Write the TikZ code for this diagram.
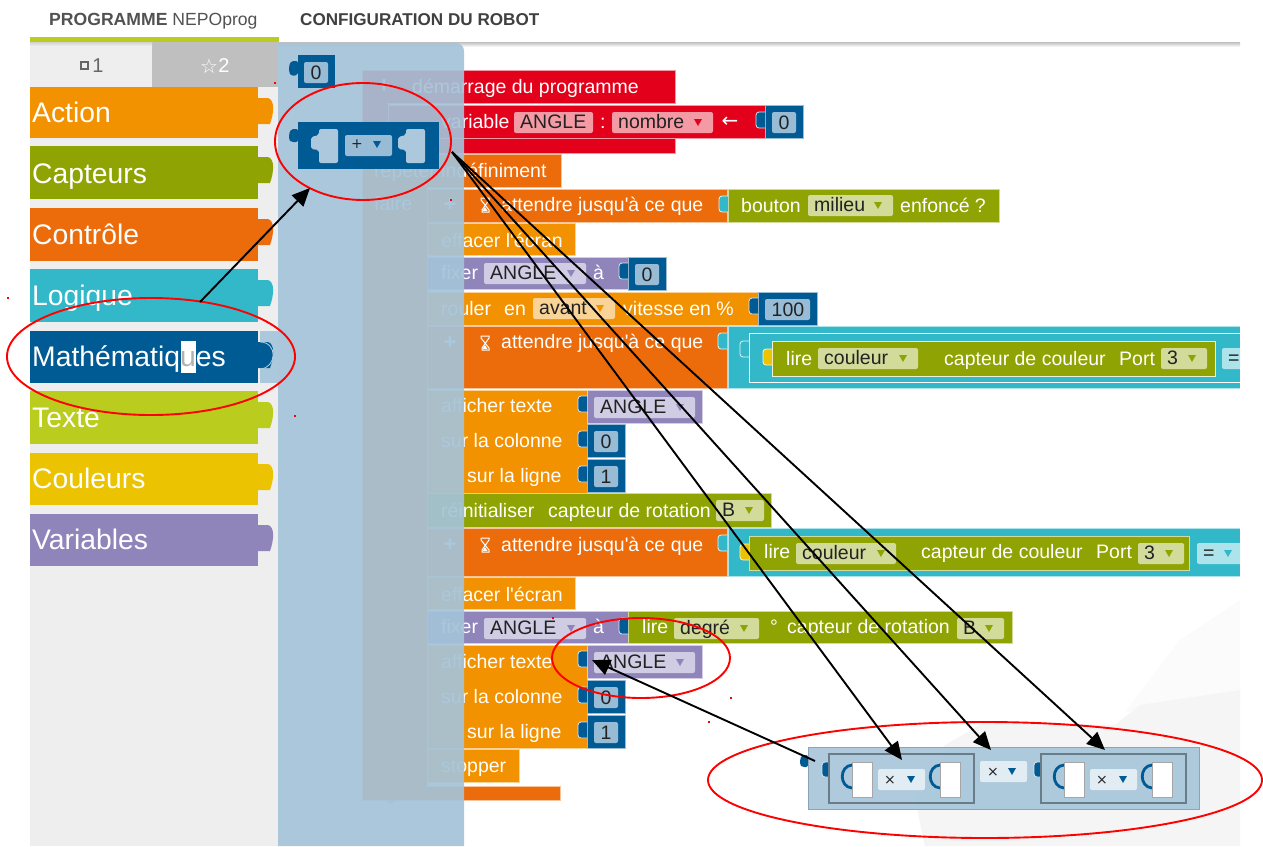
\documentclass[tikz,border=0pt]{standalone}
\usepackage{fontspec}
\setmainfont{Liberation Sans}
\newfontfamily\djfont{DejaVu Sans}
\usetikzlibrary{shapes.geometric,arrows.meta}
\definecolor{cRed}{HTML}{E2001A}
\definecolor{cDk}{HTML}{EC6B0B}
\definecolor{cAm}{HTML}{F39200}
\definecolor{cPu}{HTML}{9085BA}
\definecolor{cGr}{HTML}{8FA402}
\definecolor{cTe}{HTML}{33B8CA}
\definecolor{cBl}{HTML}{005A94}
\definecolor{cLi}{HTML}{BACC1E}
\definecolor{cYe}{HTML}{EBC300}
\definecolor{ddBl}{HTML}{99BCD6}
\definecolor{ddPu}{HTML}{D0CCE3}
\definecolor{ddGr}{HTML}{D2DB9A}
\definecolor{ddRe}{HTML}{F39AA5}
\definecolor{ddAm}{HTML}{FAD396}
\definecolor{ddTe}{HTML}{ADE3EA}
\definecolor{cFly}{HTML}{A4C3D9}
\definecolor{cFlyT}{HTML}{ABC8DC}
\definecolor{cPanel}{HTML}{EEEEEE}
\definecolor{cTxt}{HTML}{222222}
\newcounter{nn}
\newcommand\fz[1]{\fontsize{#1}{#1}\selectfont}
\tikzset{
  tb/.style={anchor=base west,inner sep=0pt,text=white,font=\fz{19.5}},
  dk/.style={anchor=base west,inner sep=0pt,text=cTxt,font=\fz{19.5}},
  cat/.style={anchor=base west,inner sep=0pt,text=white,font=\fz{28.3}},
  arr/.style={-{Triangle[length=18pt,width=16pt]},black,line width=1.9pt},
  ring/.style={ellipse,draw=red,line width=1.9pt,inner sep=0pt},
}
\newcommand\tw[3]{\stepcounter{nn}\node[tb,name=n\arabic{nn}] at (#1,#2) {#3};}
\newcommand\tk[3]{\stepcounter{nn}\node[dk,name=n\arabic{nn}] at (#1,#2) {#3};}
\newcommand\bk[5]{\fill[#5] (#1,#2) rectangle (#3,#4);\draw[#5!40!white,line width=.7pt] (#1,#2) rectangle (#3,#4);}
\newcommand\dd[6]{\fill[#4,rounded corners=2pt] (#1,#2) rectangle (#3,#2+21);
  \fill[#5] (#3-19,#2+7) -- (#3-11,#2+7) -- (#3-15,#2+14) -- cycle;
  \tk{#1+6}{#2+16}{#6}}
\newcommand\nt[3]{\draw[white!85!#3,line width=.8pt,fill=#3,rounded corners=3pt] (#1,#2) -- (#1-9,#2) -- (#1-9,#2+16) -- (#1,#2+16);}
\newcommand\nb[5]{\bk{#1}{#2}{#3}{#2+33}{cBl}\fill[ddBl,rounded corners=2pt] (#1+7,#2+7) rectangle (#3-7,#2+28);
  \stepcounter{nn}\node[name=n\arabic{nn},inner sep=0pt,text=cTxt,font=\fz{19.5},anchor=base] at (#4,#2+24) {#5};}
\newcommand\ctbox[3]{\fill[#3] (30,#1) rectangle (258,#2);
  \fill[#3] (258,#1+11) -- (268,#1+11) .. controls (275,#1+13) and (274,#1+26) .. (270,#1+37) -- (258,#1+37) -- cycle;}
\newcommand\cttx[2]{\stepcounter{nn}\node[cat,name=n\arabic{nn}] at (32,#1) {#2};}
\newcommand\ct[5]{\ctbox{#1}{#2}{#4}\cttx{#3}{#5}}
\newcommand\hg[2]{\draw[white,line width=1pt] (#1-4,#2-7) -- (#1+4,#2-7) -- (#1+4,#2-5) -- (#1-3,#2+5) -- (#1-3,#2+7) -- (#1+4,#2+7) -- (#1+4,#2+5) -- (#1-4,#2-5) -- cycle;
  \fill[white] (#1-2.5,#2+6) -- (#1+2.5,#2+6) -- (#1,#2+2) -- cycle;}
\newcommand\plusmk[2]{\stepcounter{nn}\node[name=n\arabic{nn},inner sep=0pt,text=white,font=\bfseries\fz{22}] at (#1,#2) {+};}
\newcommand\redmk[2]{\fill[red] (#1-1,#2-.7) rectangle (#1+1,#2+.7);}
\newcommand\hole[3]{\fill[#3,rounded corners=2pt] (#1+8,#2) -- (#1+27,#2) -- (#1+27,#2+34) -- (#1+8,#2+34) -- (#1+8,#2+21) -- (#1,#2+20) -- (#1,#2+8) -- (#1+8,#2+6) -- cycle;}
\newcommand\inblk[1]{%
  \draw[black!38!cFlyT,line width=1.8pt] (#1,754) rectangle (#1+145,803);
  \draw[cBl,line width=2.8pt,line cap=round] (#1+23,765) .. controls (#1+10,766) and (#1+10,787) .. (#1+23,788);
  \fill[white,draw=black!35,line width=.6pt] (#1+23,762) rectangle (#1+43,797);
  \draw[cBl,line width=2.8pt,line cap=round] (#1+111,765) .. controls (#1+98,766) and (#1+98,787) .. (#1+111,788);
  \fill[white,draw=black!35,line width=.6pt] (#1+111,762) rectangle (#1+131,797);
  \fill[white!65!cFlyT,rounded corners=2pt] (#1+49,769) rectangle (#1+96,790);
  \stepcounter{nn}\node[name=n\arabic{nn},inner sep=0pt,text=cTxt,font=\djfont\fz{14}] at (#1+61,780) {×};
  \fill[cBl] (#1+78,776) -- (#1+86,776) -- (#1+82,783) -- cycle;}
\begin{document}
\begin{tikzpicture}[x=1pt,y=-1pt]
\useasboundingbox (0,0) rectangle (1263,846);
\fill[white] (0,0) rectangle (1263,846);
% faint robot photo
\begin{scope}
\clip (900,570) rectangle (1240,846);
\fill[black!1.5] (1240,600) -- (1180,640) -- (1125,712) -- (1240,700) -- cycle;
\fill[black!4] (925,846) -- (915,800) -- (945,745) -- (985,722) -- (1115,725) -- (1140,705) -- (1240,690) -- (1240,846) -- cycle;
\end{scope}
% top shadow
\shade[top color=black!25,bottom color=white] (278,42) rectangle (1240,47);
% header
\stepcounter{nn}\node[name=n\arabic{nn},anchor=base west,inner sep=0pt,text=black!68,font=\fz{17.6}] at (49,25) {\textbf{PROGRAMME} NEPOprog};
\stepcounter{nn}\node[name=n\arabic{nn},anchor=base west,inner sep=0pt,text=black!75,font=\bfseries\fz{17.1}] at (300,25) {CONFIGURATION DU ROBOT};
% left panel
\fill[cPanel] (30,42) rectangle (278,846);
\fill[black!25] (152,42) rectangle (278,87);
\fill[cLi] (30,37) rectangle (279,42);
\shade[top color=black!18,bottom color=cPanel] (30,42) rectangle (152,46);
\draw[black!60,line width=1.3pt] (81,62) rectangle (88,69);
\stepcounter{nn}\node[name=n\arabic{nn},inner sep=0pt,text=black!60,font=\fz{20}] at (98,66) {1};
\stepcounter{nn}\node[name=n\arabic{nn},inner sep=0pt,text=white,font=\djfont\fz{20}] at (209,66) {☆};
\stepcounter{nn}\node[name=n\arabic{nn},inner sep=0pt,text=white,font=\fz{20}] at (224,66) {2};
% categories
\ct{87}{138}{122}{cAm}{Action}
\ct{146}{199}{183}{cGr}{Capteurs}
\ct{208}{261}{244}{cDk}{Contrôle}
\ct{269}{322}{305}{cTe}{Logique}
\fill[cFlyT] (260,331) rectangle (278,383);
\ctbox{331}{383}{cBl}
\fill[white] (181,341) rectangle (196,373);
\cttx{366}{\textcolor{white}{Mathématiq}\textcolor{black!30}{u}\textcolor{white}{es}}
\draw[white!70!cBl,line width=.8pt] (260,342) .. controls (278,342) and (277,368) .. (260,369);
\ct{391}{444}{427}{cLi}{Texte}
\ct{453}{505}{488}{cYe}{Couleurs}
\ct{514}{566}{549}{cPu}{Variables}
% ---- program blocks (start from x=362, hidden by flyout)
\bk{362}{70}{675}{103}{cRed}
\bk{362}{103}{388}{153}{cRed}
\bk{388}{105}{765}{138}{cRed}
\bk{362}{138}{675}{153}{cRed}
\fill[cRed] (363,102) rectangle (387,154);
\tw{412}{93}{démarrage du programme}
\tw{441}{128}{variable}
\dd{514}{112}{593}{ddRe}{ddRe}{ANGLE}
\tw{600}{128}{:}
\dd{612}{112}{713}{ddRe}{cRed}{nombre}
\stepcounter{nn}\node[name=n\arabic{nn},inner sep=0pt,text=white,font=\djfont\fz{20}] at (730,122) {←};
\nb{765}{105}{803}{784}{0}
\nt{765}{112}{cBl}
\plusmk{384}{86}
% repeat
\bk{362}{154}{561}{187}{cDk}
\fill[cDk] (362,187) rectangle (427,786);
\draw[cDk!40!white,line width=.7pt] (362,187) -- (362,800) (427,187) -- (427,786);
\bk{362}{786}{560}{800}{cDk}
\fill[cDk] (363,785) rectangle (426,787);
\tw{374}{177}{répéter indéfiniment}
\tw{374}{210}{faire}
\bk{427}{189}{727}{222}{cDk}
\plusmk{450}{205}
\hg{485}{205}
\tw{501}{211}{attendre jusqu\textquotesingle à ce que}
\bk{728}{189}{999}{222}{cGr}
\nt{728}{196}{cTe}
\tw{741}{212}{bouton}
\dd{808}{195}{893}{ddGr}{cGr}{milieu}
\tw{900}{212}{enfoncé ?}
\bk{427}{223}{575}{255}{cAm}
\tw{441}{247}{effacer l\textquotesingle écran}
\bk{427}{257}{628}{289}{cPu}
\tw{441}{279}{fixer}
\dd{484}{263}{586}{ddPu}{cPu}{ANGLE}
\tw{593}{279}{à}
\nb{628}{257}{666}{647}{0}
\nt{628}{263}{cBl}
\bk{427}{292}{758}{325}{cAm}
\tw{441}{315}{rouler}
\tw{504}{315}{en}
\dd{533}{298}{615}{ddAm}{cAm}{avant}
\tw{623}{315}{vitesse en \%}
\nb{758}{292}{817}{788}{100}
\nt{758}{298}{cBl}
\bk{427}{326}{727}{388}{cDk}
\plusmk{450}{343}
\hg{485}{343}
\tw{501}{348}{attendre jusqu\textquotesingle à ce que}
\fill[cTe] (728,326) rectangle (1240,388);
\draw[cTe!40!white,line width=.7pt] (1240,326) -- (728,326) -- (728,388) -- (1240,388);
\nt{727}{333}{cTe}
\draw[white,line width=.8pt] (1240,333) -- (749,333) -- (749,382) -- (1240,382);
\nt{749}{341}{cTe}
\fill[cGr] (772,341) rectangle (1215,376);
\draw[white!85!cGr,line width=.8pt] (772,341) rectangle (1215,376);
\nt{772}{349}{cYe}
\tw{786}{365}{lire}
\dd{818}{348}{918}{ddGr}{cGr}{couleur}
\tw{944}{365}{capteur de couleur}
\tw{1119}{365}{Port}
\dd{1161}{348}{1207}{ddGr}{cGr}{3}
\begin{scope}
\clip (1218,340) rectangle (1240,380);
\fill[ddTe,rounded corners=2pt] (1222,348) rectangle (1250,369);
\tk{1228}{364}{=}
\end{scope}
% afficher 1
\bk{427}{390}{587}{493}{cAm}
\tw{441}{412}{afficher texte}
\tw{441}{447}{sur la colonne}
\tw{467}{482}{sur la ligne}
\bk{587}{390}{702}{423}{cPu}
\nt{587}{396}{cBl}
\dd{594}{397}{695}{ddPu}{cPu}{ANGLE}
\nb{587}{424}{625}{606}{0}
\nt{587}{431}{cBl}
\nb{587}{459}{625}{606}{1}
\nt{587}{466}{cBl}
% reinit
\bk{427}{493}{771}{527}{cGr}
\tw{441}{517}{réinitialiser}
\tw{548}{517}{capteur de rotation}
\dd{716}{500}{764}{ddGr}{cGr}{B}
% attendre 3
\bk{427}{528}{727}{576}{cDk}
\plusmk{450}{545}
\hg{485}{545}
\tw{501}{551}{attendre jusqu\textquotesingle à ce que}
\fill[cTe] (728,528) rectangle (1240,576);
\draw[cTe!40!white,line width=.7pt] (1240,528) -- (728,528) -- (728,576) -- (1240,576);
\nt{727}{535}{cTe}
\bk{749}{536}{1189}{570}{cGr}
\nt{749}{544}{cYe}
\tw{764}{558}{lire}
\dd{796}{543}{896}{ddGr}{cGr}{couleur}
\tw{921}{558}{capteur de couleur}
\tw{1096}{558}{Port}
\dd{1138}{543}{1184}{ddGr}{cGr}{3}
\begin{scope}
\clip (1190,530) rectangle (1240,575);
\dd{1197}{543}{1243}{ddTe}{cTe}{=}
\end{scope}
% second part
\bk{427}{577}{575}{609}{cAm}
\tw{441}{601}{effacer l\textquotesingle écran}
\bk{427}{611}{628}{643}{cPu}
\tw{441}{633}{fixer}
\dd{484}{618}{586}{ddPu}{cPu}{ANGLE}
\tw{593}{633}{à}
\bk{628}{611}{1012}{643}{cGr}
\nt{628}{618}{cBl}
\tw{642}{633}{lire}
\dd{674}{618}{759}{ddGr}{cGr}{degré}
\tw{770}{633}{°}
\tw{787}{633}{capteur de rotation}
\dd{957}{618}{1004}{ddGr}{cGr}{B}
\bk{427}{645}{587}{748}{cAm}
\tw{441}{668}{afficher texte}
\tw{441}{703}{sur la colonne}
\tw{467}{738}{sur la ligne}
\bk{587}{645}{702}{678}{cPu}
\nt{587}{651}{cBl}
\dd{594}{652}{695}{ddPu}{cPu}{ANGLE}
\nb{587}{680}{625}{606}{0}
\nt{587}{687}{cBl}
\nb{587}{715}{625}{606}{1}
\nt{587}{722}{cBl}
\bk{427}{749}{519}{782}{cAm}
\tw{441}{772}{stopper}
% ---- flyout overlay
\fill[cFly,opacity=.92] (278,43) [rounded corners=8pt] -- (464,43) [sharp corners] -- (464,846) -- (278,846) -- cycle;
\fill[cFly,opacity=.92] (385,800) -- (397,800) -- (391,804) -- cycle;
% flyout blocks
\fill[cBl,rounded corners=2pt] (298,61) -- (291,61) -- (289,66) -- (289,72) -- (291,76) -- (298,75) -- cycle;
\fill[cBl] (298,55) rectangle (335,88);
\fill[ddBl,rounded corners=2pt] (304,62) rectangle (328,83);
\stepcounter{nn}\node[name=n\arabic{nn},inner sep=0pt,text=cTxt,font=\fz{19.5},anchor=base] at (316,79) {0};
\fill[cBl,rounded corners=2pt] (298,129) -- (291,129) -- (289,134) -- (289,140) -- (291,142) -- (298,142) -- cycle;
\fill[cBl] (298,122) rectangle (439,169);
\hole{311}{129}{cFlyT}
\hole{398}{129}{cFlyT}
\fill[ddBl,rounded corners=2pt] (345,135) rectangle (392,156);
\stepcounter{nn}\node[name=n\arabic{nn},inner sep=0pt,text=cTxt,font=\djfont\fz{14}] at (357,144) {+};
\fill[cBl] (373,141) -- (381,141) -- (377,148) -- cycle;
% ---- bottom group
\fill[cBl,rounded corners=2pt] (808,755) -- (802,755) -- (800,759) -- (800,765) -- (802,767) -- (808,767) -- cycle;
\fill[cFly,opacity=.88] (808,747) rectangle (1199,809);
\draw[black!18!cFlyT,line width=1pt] (808,747) rectangle (1199,809);
\draw[white!85!cBl,line width=.8pt,fill=cBl,rounded corners=3pt] (829,762) -- (822,762) -- (822,777) -- (829,777);
\draw[white!85!cBl,line width=.8pt,fill=cBl,rounded corners=3pt] (1041,762) -- (1034,762) -- (1034,777) -- (1041,777);
\inblk{829}
\inblk{1041}
\fill[white!65!cFlyT,rounded corners=2pt] (980,761) rectangle (1027,782);
\stepcounter{nn}\node[name=n\arabic{nn},inner sep=0pt,text=cTxt,font=\djfont\fz{14}] at (993,772) {×};
\fill[cBl] (1008,768) -- (1016,768) -- (1012,775) -- cycle;
% ---- rings
\node[ring,minimum width=176pt,minimum height=117pt] (ringplus) at (363,141.5) {};
\node[ring,minimum width=288pt,minimum height=117pt] (ringmath) at (151,356.5) {};
\node[ring,minimum width=178pt,minimum height=80pt] (ringangle) at (641,658) {};
\node[ring,minimum width=554pt,minimum height=116pt] (ringbottom) at (985,780) {};
% red handles
\redmk{275}{83}\redmk{8}{298}\redmk{451}{200}\redmk{295}{416}\redmk{553}{618}\redmk{731}{698}\redmk{709}{722}
% ---- arrows
\coordinate (mathtop) at (200,302);
\coordinate (plustip) at (310,188);
\coordinate (plusout) at (452,152);
\coordinate (tipa) at (902,760);
\coordinate (tipb) at (991,750);
\coordinate (tipc) at (1105,750);
\coordinate (grouptail) at (815,761);
\coordinate (angletip) at (592,660);
\draw[arr] (mathtop) -- (plustip);
\draw[arr] (plusout) -- (tipa);
\draw[arr] (plusout) -- (tipb);
\draw[arr] (plusout) -- (tipc);
\draw[arr] (grouptail) -- (angletip);
\end{tikzpicture}
\end{document}
